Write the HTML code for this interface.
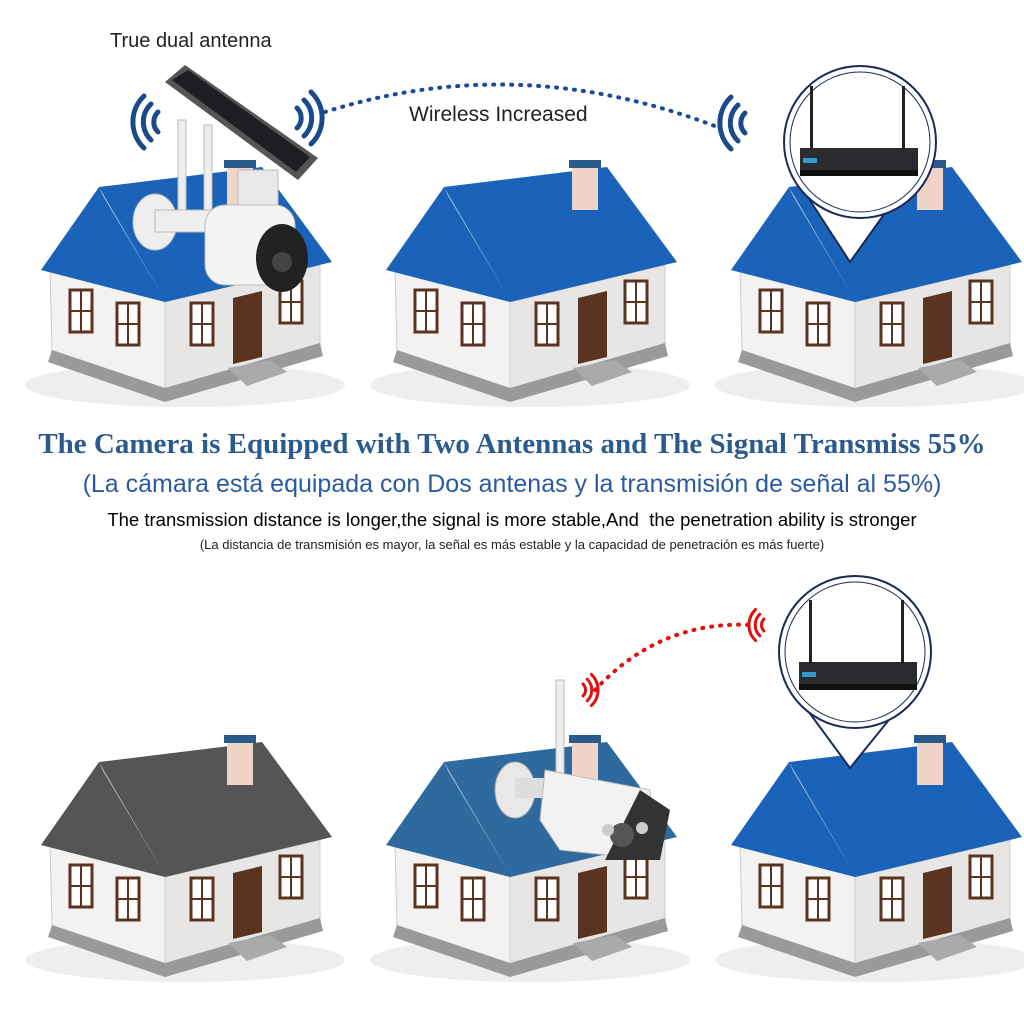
<!DOCTYPE html>
<html><head><meta charset="utf-8"><style>
html,body{margin:0;padding:0;background:#fff}
body{width:1024px;height:1024px;position:relative;overflow:hidden;font-family:"Liberation Sans",sans-serif}
.t{position:absolute;left:0;width:1024px;text-align:center;white-space:nowrap}
</style></head><body>
<svg width="1024" height="1024" style="position:absolute;left:0;top:0">
<defs>
<g id="win"><rect x="0" y="0" width="22" height="42" fill="#fff" stroke="#5a3420" stroke-width="3"/><line x1="11" y1="0" x2="11" y2="42" stroke="#5a3420" stroke-width="2"/><line x1="0" y1="21" x2="22" y2="21" stroke="#5a3420" stroke-width="2"/></g>
<g id="body">
<ellipse cx="530" cy="385" rx="160" ry="22" fill="#eee"/>
<polygon points="395,268 444,195 510,300 510,392 397,352" fill="#f4f2f0" stroke="#ccc"/>
<polygon points="510,302 665,265 665,345 510,390" fill="#e8e6e4" stroke="#ccc"/>
<polygon points="397,350 510,388 665,343 668,356 510,402 393,362" fill="#9a9a9a"/>
<polygon points="573,368 615,360 632,372 592,386" fill="#aaa"/>
<rect x="440" y="236" width="16" height="31" fill="#fff" stroke="#5a3420" stroke-width="2.5"/>
<use href="#win" x="415" y="290"/><use href="#win" x="462" y="303"/>
<use href="#win" x="536" y="303"/><use href="#win" x="625" y="281"/>
<polygon points="578,298 607,291 607,357 578,364" fill="#5a3420"/>
</g>
<g id="roof"><polygon points="386,270 444,187 607,167 677,262 510,302" /><polygon points="444,187 510,300 513,305 448,196" fill="#fff" opacity=".6"/></g>
<g id="chim"><rect x="572" y="165" width="26" height="45" fill="#f0d4c8"/><rect x="569" y="160" width="32" height="8" fill="#2a5a8a"/></g>
<g id="router"><rect x="-58" y="0" width="118" height="26" fill="#2a2c30"/><rect x="-58" y="22" width="118" height="6" fill="#111"/><rect x="-48" y="-62" width="3" height="64" fill="#222"/><rect x="44" y="-62" width="3" height="64" fill="#222"/><rect x="-55" y="10" width="14" height="5" fill="#39c"/></g>
<g id="wifi" fill="none" stroke-width="5" stroke-linecap="round"><circle cx="0" cy="0" r="5" stroke="none"/><path d="M10,-10 A14,14 0 0 1 10,10"/><path d="M17,-18 A25,25 0 0 1 17,18"/><path d="M24,-26 A36,36 0 0 1 24,26"/></g>
</defs>
<g transform="translate(-345,0)"><use href="#body"/><use href="#roof" fill="#1a63b8"/><use href="#chim"/></g>
<use href="#body"/><use href="#roof" fill="#1a63b8"/><use href="#chim"/>
<g transform="translate(345,0)"><use href="#body"/><use href="#roof" fill="#1a63b8"/><use href="#chim"/></g>
<g transform="translate(-345,575)"><use href="#body"/><use href="#roof" fill="#555"/><use href="#chim"/></g>
<g transform="translate(0,575)"><use href="#body"/><use href="#roof" fill="#2f6a9f"/><use href="#chim"/></g>
<g transform="translate(345,575)"><use href="#body"/><use href="#roof" fill="#1a63b8"/><use href="#chim"/></g>
<!-- top left camera -->
<polygon points="165,82 185,65 318,158 298,180" fill="#555"/>
<polygon points="172,80 188,70 310,157 296,172" fill="#1e1e22"/>
<rect x="178" y="120" width="8" height="110" fill="#eee" stroke="#bbb"/>
<rect x="204" y="125" width="8" height="100" fill="#eee" stroke="#bbb"/>
<rect x="238" y="170" width="40" height="40" fill="#e8e8e8" stroke="#bbb"/>
<ellipse cx="155" cy="222" rx="22" ry="28" fill="#eee" stroke="#bbb"/>
<rect x="155" y="210" width="60" height="22" fill="#eee" stroke="#bbb"/>
<rect x="205" y="205" width="90" height="80" rx="20" fill="#f4f4f4" stroke="#bbb"/>
<ellipse cx="282" cy="258" rx="26" ry="34" fill="#222"/>
<circle cx="282" cy="262" r="10" fill="#444"/>
<!-- bottom middle camera -->
<rect x="556" y="680" width="8" height="95" fill="#eee" stroke="#bbb"/>
<ellipse cx="515" cy="790" rx="20" ry="28" fill="#e8e8e8" stroke="#aaa"/>
<rect x="515" y="778" width="45" height="20" fill="#ddd"/>
<polygon points="545,770 650,790 655,860 560,850 540,820" fill="#f2f2f2" stroke="#bbb"/>
<polygon points="640,790 670,810 660,860 605,860" fill="#333"/>
<circle cx="622" cy="835" r="12" fill="#555"/><circle cx="608" cy="830" r="6" fill="#ccc"/><circle cx="642" cy="828" r="6" fill="#ccc"/>
<g><path d="M800,185 L850,262 L905,185 Z" fill="#fff" stroke="#1a2a5a" stroke-width="2"/><circle cx="860" cy="142" r="76" fill="#fff" stroke="#1a2a5a" stroke-width="2"/><circle cx="860" cy="142" r="70" fill="#fff" stroke="#1a2a5a" stroke-width="1"/><use href="#router" x="858" y="148"/></g>
<g><path d="M800,700 L850,768 L905,700 Z" fill="#fff" stroke="#1a2a5a" stroke-width="2"/><circle cx="855" cy="652" r="76" fill="#fff" stroke="#1a2a5a" stroke-width="2"/><circle cx="855" cy="652" r="70" fill="#fff" stroke="#1a2a5a" stroke-width="1"/><use href="#router" x="857" y="662"/></g>
<g fill="#1a4a8a" stroke="#1a4a8a"><use href="#wifi" transform="translate(168,122) scale(-1,1)"/><use href="#wifi" transform="translate(287,118)"/><use href="#wifi" transform="translate(755,123) scale(-1,1)"/></g>
<g fill="#e01010" stroke="#e01010"><use href="#wifi" transform="translate(577,690) scale(.6)"/><use href="#wifi" transform="translate(770,625) scale(-.6,.6)"/></g>
<path d="M325,112 Q520,50 720,128" fill="none" stroke="#1a4a9a" stroke-width="4" stroke-dasharray="1,8" stroke-linecap="round"/>
<path d="M595,690 Q660,620 752,625" fill="none" stroke="#e01010" stroke-width="4" stroke-dasharray="1,8" stroke-linecap="round"/>
</svg>
<div class="t" style="left:110px;width:auto;top:30px;font-size:20px;color:#222">True dual antenna</div>
<div class="t" style="left:409px;width:auto;top:103px;font-size:21px;color:#222">Wireless Increased</div>
<div class="t" style="top:428px;font-family:'Liberation Serif',serif;font-weight:bold;font-size:29px;color:#2b5b8e">The Camera is Equipped with Two Antennas and The Signal Transmiss 55%</div>
<div class="t" style="top:470px;font-size:25px;color:#2b5b9e">(La cámara está equipada con Dos antenas y la transmisión de señal al 55%)</div>
<div class="t" style="top:509px;font-size:18.5px;color:#000">The transmission distance is longer,the signal is more stable,And &nbsp;the penetration ability is stronger</div>
<div class="t" style="top:537px;font-size:13px;color:#222">(La distancia de transmisión es mayor, la señal es más estable y la capacidad de penetración es más fuerte)</div>
</body></html>
